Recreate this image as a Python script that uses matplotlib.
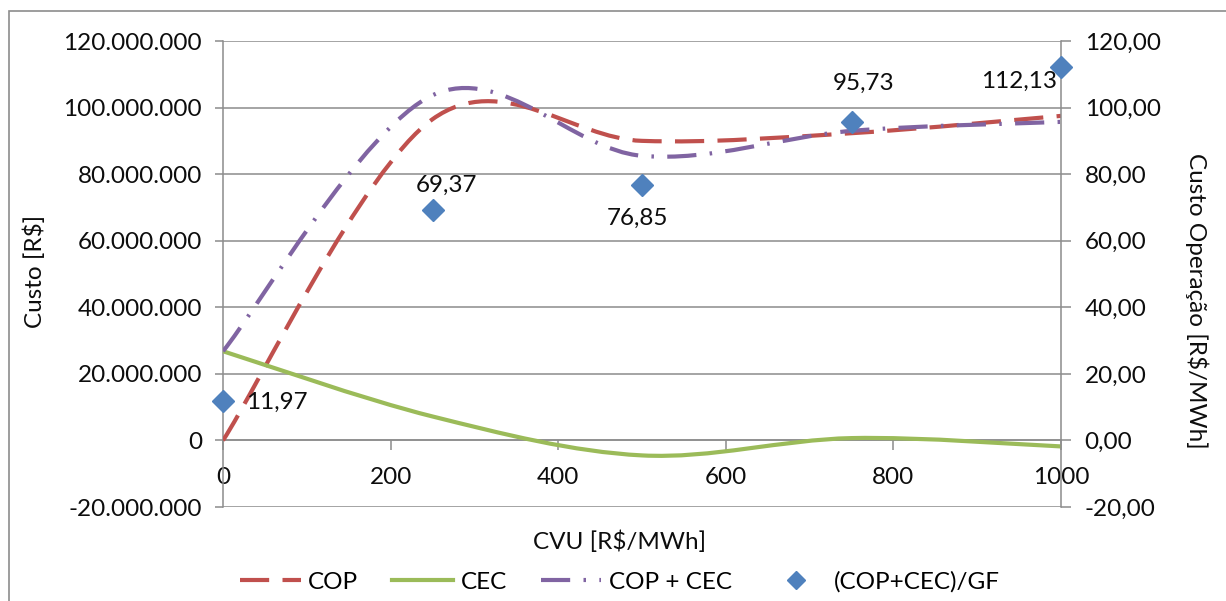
import numpy as np
import matplotlib
matplotlib.use("Agg")
import matplotlib.pyplot as plt
from matplotlib.path import Path
from matplotlib.patches import PathPatch, Rectangle
from matplotlib.lines import Line2D
from matplotlib.ticker import FuncFormatter, MultipleLocator

plt.rcParams['font.family'] = ['Lato', 'DejaVu Sans']

# CVU values (R$/MWh) and costs (R$)
cvu = [0, 250, 500, 750, 1000]
cop = [0.0, 96.5e6, 90.0e6, 92.3e6, 97.5e6]
cec = [26.8e6, 7.2e6, -4.5e6, 0.7e6, -1.8e6]
cop_cec = [26.8e6, 103.7e6, 85.5e6, 93.0e6, 95.7e6]
# Operating cost per guaranteed energy (R$/MWh)
custo_gf = [11.97, 69.37, 76.85, 95.73, 112.13]
gf_labels = ["11,97", "69,37", "76,85", "95,73", "112,13"]

x_ticks = [0, 200, 400, 600, 800, 1000]

C_COP = '#C0504D'
C_CEC = '#9BBB59'
C_SUM = '#8064A2'
C_GF = '#4F81BD'
GRID = '#8c8c8c'
TXT = '#0d0d0d'
FS = 17.5

W, H = 1226, 601


def smooth_path(x, y):
    """Smoothed line through the points: cubic Bezier segments with
    Catmull-Rom style tangents."""
    pts = np.column_stack([x, y]).astype(float)
    n = len(pts)
    verts = [pts[0]]
    codes = [Path.MOVETO]
    for i in range(n - 1):
        p0 = pts[max(i - 1, 0)]
        p1 = pts[i]
        p2 = pts[i + 1]
        p3 = pts[min(i + 2, n - 1)]
        verts += [p1 + (p2 - p0) / 6.0, p2 - (p3 - p1) / 6.0, p2]
        codes += [Path.CURVE4] * 3
    return Path(verts, codes)


fig = plt.figure(figsize=(W / 100, H / 100), dpi=100)

# chart-area border
fig.add_artist(Rectangle((9 / W, -0.1), 1.2, 1 - 11 / H + 0.1,
                         transform=fig.transFigure, fill=False,
                         ec='#8c8c8c', lw=1.2, clip_on=False))

ax = fig.add_axes([223 / W, 1 - 507 / H, (1061 - 223) / W, (507 - 41) / H])
ax.set_xlim(0, 1000)
ax.set_ylim(-20e6, 120e6)
ax.yaxis.set_major_locator(MultipleLocator(20e6))
ax.set_xticks(x_ticks)
ax.yaxis.set_major_formatter(FuncFormatter(lambda v, p: f"{int(round(v)):,}".replace(',', '.')))
ax.grid(axis='y', color=GRID, lw=1.1)
ax.set_axisbelow(True)
for s in ('top', 'right'):
    ax.spines[s].set_visible(False)
ax.spines['bottom'].set_position(('data', 0))
for s in ('left', 'bottom'):
    ax.spines[s].set_color(GRID)
    ax.spines[s].set_linewidth(1.1)
ax.tick_params(axis='y', direction='out', length=6, width=1.1, color=GRID,
               pad=9, labelsize=FS, labelcolor=TXT)
ax.tick_params(axis='x', direction='out', length=7, width=1.1, color=GRID,
               pad=12, labelsize=FS, labelcolor=TXT)

line_styles = [
    (cop, C_COP, (0, (7, 3.2))),
    (cec, C_CEC, 'solid'),
    (cop_cec, C_SUM, (0, (7, 3.2, 0.6, 3.2))),
]
for vals, col, ls in line_styles:
    ax.add_patch(PathPatch(smooth_path(cvu, vals), fill=False, ec=col, lw=3,
                           linestyle=ls, capstyle='butt', zorder=3))

ax2 = ax.twinx()
ax2.set_ylim(-20, 120)
ax2.yaxis.set_major_locator(MultipleLocator(20))
ax2.yaxis.set_major_formatter(FuncFormatter(lambda v, p: f"{v:.2f}".replace('.', ',')))
for s in ('top', 'left', 'bottom'):
    ax2.spines[s].set_visible(False)
ax2.spines['right'].set_color(GRID)
ax2.spines['right'].set_linewidth(1.1)
ax2.tick_params(axis='y', direction='out', length=7, width=1.1, color=GRID,
                pad=10, labelsize=FS, labelcolor=TXT)

ax2.plot(cvu, custo_gf, linestyle='none', marker='D', ms=11.5, color=C_GF,
         zorder=5, clip_on=False)

label_pos = [
    ((16.5, -1.0), 'left'),
    ((10.0, 17.3), 'center'),
    ((-3.0, -24.0), 'center'),
    ((8.6, 27.7), 'center'),
    ((-3.0, -10.0), 'right'),
]
for xv, yv, txt, (off, ha) in zip(cvu, custo_gf, gf_labels, label_pos):
    ax2.annotate(txt, (xv, yv), xytext=off, textcoords='offset points',
                 ha=ha, va='center', fontsize=FS, color=TXT, zorder=6)

fig.text(35 / W, 1 - 271 / H, 'Custo [R$]', rotation=90, ha='center',
         va='center', fontsize=FS, color=TXT)
fig.text(1197 / W, 1 - 301 / H, 'Custo Operação [R$/MWh]', rotation=270,
         ha='center', va='center', fontsize=FS, color=TXT)
fig.text(620 / W, 1 - 542 / H, 'CVU [R$/MWh]', ha='center', va='center',
         fontsize=FS, color=TXT)

handles = [
    Line2D([], [], color=C_COP, lw=3, linestyle=(0, (7, 3.2)), dash_capstyle='butt'),
    Line2D([], [], color=C_CEC, lw=3),
    Line2D([], [], color=C_SUM, lw=3, linestyle=(0, (7, 3.2, 0.6, 3.2)), dash_capstyle='butt'),
    Line2D([], [], linestyle='none', marker='D', ms=9, color=C_GF),
]
labels = ['COP', 'CEC', 'COP + CEC', '(COP+CEC)/GF']
fig.legend(handles, labels, loc='center', bbox_to_anchor=(620 / W, 1 - 582 / H),
           ncol=4, frameon=False, fontsize=FS, handlelength=2.5,
           handletextpad=0.3, columnspacing=1.4)

fig.savefig('out.png', dpi=100)
